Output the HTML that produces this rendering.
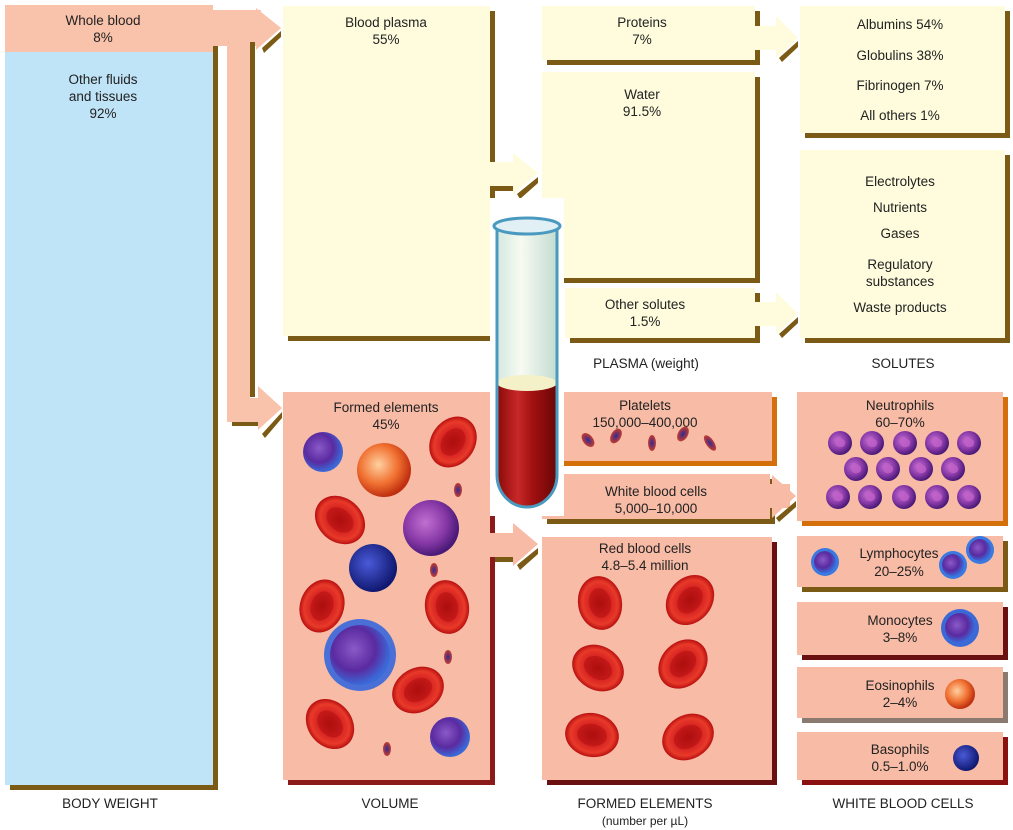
<!DOCTYPE html>
<html><head><meta charset="utf-8"><style>
html,body{margin:0;padding:0;background:#fff;}
svg{display:block;font-family:"Liberation Sans",sans-serif;}
text{font-size:13.5px;fill:#222;text-anchor:middle;}
</style></head><body>
<svg width="1013" height="830" viewBox="0 0 1013 830" xmlns="http://www.w3.org/2000/svg">
<defs>
<radialGradient id="rbc" cx="50%" cy="50%" r="50%">
<stop offset="0" stop-color="#a80c0c"/><stop offset="0.45" stop-color="#d42020"/><stop offset="0.8" stop-color="#e83a2a"/><stop offset="1" stop-color="#b81010"/></radialGradient>
<radialGradient id="neu" cx="40%" cy="40%" r="60%"><stop offset="0" stop-color="#c070d0"/><stop offset="0.6" stop-color="#8a3aa8"/><stop offset="1" stop-color="#4a1a78"/></radialGradient>
<radialGradient id="lym" cx="40%" cy="40%" r="60%"><stop offset="0" stop-color="#8a5ac8"/><stop offset="0.6" stop-color="#5a2aa0"/><stop offset="1" stop-color="#3a6ad8"/></radialGradient>
<radialGradient id="eos" cx="40%" cy="40%" r="60%"><stop offset="0" stop-color="#ffd0a0"/><stop offset="0.6" stop-color="#f07030"/><stop offset="1" stop-color="#c03010"/></radialGradient>
<radialGradient id="bas" cx="40%" cy="40%" r="60%"><stop offset="0" stop-color="#4a5ad8"/><stop offset="1" stop-color="#101870"/></radialGradient>
<radialGradient id="plt" cx="50%" cy="50%" r="50%"><stop offset="0" stop-color="#2030a0"/><stop offset="0.5" stop-color="#803060"/><stop offset="1" stop-color="#c04030"/></radialGradient>
<linearGradient id="tube" x1="0" x2="1"><stop offset="0" stop-color="#8a0a0a"/><stop offset="0.35" stop-color="#c82828"/><stop offset="0.6" stop-color="#a01010"/><stop offset="1" stop-color="#6a0606"/></linearGradient>
<linearGradient id="tubeTop" x1="0" x2="1"><stop offset="0" stop-color="#cfe6dc"/><stop offset="0.4" stop-color="#f6faf0"/><stop offset="1" stop-color="#bcd8cc"/></linearGradient>
<g id="R"><ellipse rx="22" ry="27" fill="url(#rbc)"/><ellipse rx="11" ry="15" fill="#b01010" opacity="0.55"/></g>
<g id="N"><circle r="12" fill="url(#neu)"/><path d="M-6,-3 q4,-6 8,-1 q5,2 2,7 q-5,3 -8,-1z" fill="#c060c8" opacity="0.8"/></g>
</defs>

<rect x="10" y="10" width="208" height="780" fill="#7a5a14"/>
<rect x="5" y="52" width="208" height="733" fill="#bfe3f7"/>
<rect x="5" y="5" width="208" height="47" fill="#f9c2aa"/>
<text x="103" y="25">Whole blood</text><text x="103" y="42">8%</text>
<text x="103" y="84">Other fluids</text><text x="103" y="101">and tissues</text><text x="103" y="118">92%</text>

<rect x="213" y="10" width="48" height="36" fill="#f9c2aa"/>
<polygon points="256,8 281,28 256,50" fill="#f9c2aa"/>
<polygon points="262,48 281,31 281,37 264,53" fill="#7a5a14"/>
<rect x="228" y="42" width="4" height="370" fill="#7a5a14"/>
<rect x="250" y="42" width="5" height="355" fill="#7a5a14"/>
<rect x="227" y="40" width="23" height="380" rx="6" fill="#f9c2aa"/>
<rect x="227" y="398" width="36" height="24" fill="#f9c2aa"/>
<rect x="232" y="422" width="30" height="4" fill="#7a5a14"/>
<polygon points="258,386 282,408 258,430" fill="#f9c2aa"/>
<polygon points="262,434 282,412 282,418 265,438" fill="#7a5a14"/>

<rect x="288" y="11" width="207" height="330" fill="#7a5a14"/>
<rect x="283" y="6" width="207" height="330" fill="#fefcdc"/>
<text x="386" y="27">Blood plasma</text><text x="386" y="44">55%</text>
<rect x="490" y="162" width="25" height="24" fill="#fefcdc"/>
<rect x="495" y="186" width="20" height="5" fill="#7a5a14"/>
<polygon points="513,153 538,173 513,195" fill="#fefcdc"/>
<polygon points="517,194 538,177 538,183 520,199" fill="#7a5a14"/>

<rect x="547" y="11" width="213" height="54" fill="#7a5a14"/>
<rect x="542" y="6" width="213" height="54" fill="#fefcdc"/>
<text x="642" y="27">Proteins</text><text x="642" y="44">7%</text>
<rect x="755" y="26" width="25" height="24" fill="#fefcdc"/>
<polygon points="776,16 798,38 776,58" fill="#fefcdc"/>
<polygon points="779,58 798,41 798,47 782,62" fill="#7a5a14"/>
<rect x="547" y="77" width="213" height="206" fill="#7a5a14"/>
<rect x="542" y="72" width="213" height="206" fill="#fefcdc"/>
<text x="642" y="99">Water</text><text x="642" y="116">91.5%</text>
<rect x="570" y="293" width="190" height="50" fill="#7a5a14"/>
<rect x="565" y="288" width="190" height="50" fill="#fefcdc"/>
<text x="645" y="309">Other solutes</text><text x="645" y="326">1.5%</text>
<rect x="755" y="302" width="25" height="24" fill="#fefcdc"/>
<polygon points="776,292 798,314 776,334" fill="#fefcdc"/>
<polygon points="779,334 798,317 798,323 782,338" fill="#7a5a14"/>

<rect x="805" y="11" width="205" height="127" fill="#7a5a14"/>
<rect x="800" y="6" width="205" height="127" fill="#fefcdc"/>
<text x="900" y="29">Albumins 54%</text><text x="900" y="60">Globulins 38%</text><text x="900" y="90">Fibrinogen 7%</text><text x="900" y="120">All others 1%</text>
<rect x="805" y="155" width="205" height="188" fill="#7a5a14"/>
<rect x="800" y="150" width="205" height="188" fill="#fefcdc"/>
<text x="900" y="186">Electrolytes</text><text x="900" y="212">Nutrients</text><text x="900" y="238">Gases</text><text x="900" y="269">Regulatory</text><text x="900" y="286">substances</text><text x="900" y="312">Waste products</text>

<text x="646" y="368">PLASMA (weight)</text>
<text x="903" y="368">SOLUTES</text>

<rect x="288" y="397" width="207" height="388" fill="#8b1a1a"/>
<rect x="283" y="392" width="207" height="388" fill="#f8bba6"/>
<text x="386" y="412">Formed elements</text><text x="386" y="429">45%</text>
<use href="#R" transform="translate(453,442) rotate(35)"/>
<use href="#R" transform="translate(340,520) rotate(-50)"/>
<use href="#R" transform="translate(322,606) rotate(20)"/>
<use href="#R" transform="translate(447,607) rotate(-10)"/>
<use href="#R" transform="translate(418,690) rotate(60)"/>
<use href="#R" transform="translate(330,724) rotate(-40)"/>
<circle cx="323" cy="452" r="20" fill="url(#lym)"/>
<circle cx="384" cy="470" r="27" fill="url(#eos)"/>
<circle cx="431" cy="528" r="28" fill="url(#neu)"/>
<circle cx="373" cy="568" r="24" fill="url(#bas)"/>
<circle cx="360" cy="655" r="36" fill="#4a70d8"/><circle cx="360" cy="655" r="30" fill="url(#lym)"/>
<circle cx="450" cy="737" r="20" fill="url(#lym)"/>
<ellipse cx="458" cy="490" rx="4" ry="7" fill="url(#plt)"/><ellipse cx="434" cy="570" rx="4" ry="7" fill="url(#plt)"/><ellipse cx="448" cy="657" rx="4" ry="7" fill="url(#plt)"/><ellipse cx="387" cy="749" rx="4" ry="7" fill="url(#plt)"/>
<rect x="490" y="533" width="25" height="24" fill="#f8bba6"/>
<rect x="495" y="557" width="20" height="5" fill="#7a5a14"/>
<polygon points="513,523 538,544 513,566" fill="#f8bba6"/>
<polygon points="517,565 538,548 538,554 520,570" fill="#7a5a14"/>

<rect x="547" y="397" width="230" height="69" fill="#d4700a"/>
<rect x="542" y="392" width="230" height="69" fill="#f8bba6"/>
<text x="645" y="410">Platelets</text><text x="645" y="427">150,000–400,000</text>
<ellipse cx="588" cy="440" rx="5" ry="8" transform="rotate(-40 588 440)" fill="url(#plt)"/>
<ellipse cx="616" cy="436" rx="5" ry="8" transform="rotate(30 616 436)" fill="url(#plt)"/>
<ellipse cx="652" cy="443" rx="4" ry="8" fill="url(#plt)"/>
<ellipse cx="683" cy="434" rx="5" ry="8" transform="rotate(30 683 434)" fill="url(#plt)"/>
<ellipse cx="710" cy="443" rx="4" ry="9" transform="rotate(-35 710 443)" fill="url(#plt)"/>
<rect x="547" y="479" width="228" height="45" fill="#7a5a14"/>
<rect x="542" y="474" width="228" height="45" fill="#f8bba6"/>
<text x="656" y="496">White blood cells</text><text x="656" y="513">5,000–10,000</text>
<rect x="770" y="484" width="20" height="24" fill="#f8bba6"/>
<polygon points="772,475 796,496 772,518" fill="#f8bba6"/>
<polygon points="776,518 796,501 796,507 779,522" fill="#7a5a14"/>
<rect x="547" y="542" width="230" height="243" fill="#6a1010"/>
<rect x="542" y="537" width="230" height="243" fill="#f8bba6"/>
<text x="645" y="553">Red blood cells</text><text x="645" y="570">4.8–5.4 million</text>
<use href="#R" transform="translate(600,603) rotate(-10)"/>
<use href="#R" transform="translate(690,600) rotate(40)"/>
<use href="#R" transform="translate(598,668) rotate(-60)"/>
<use href="#R" transform="translate(683,664) rotate(45)"/>
<use href="#R" transform="translate(592,735) rotate(-80)"/>
<use href="#R" transform="translate(688,737) rotate(60)"/>

<rect x="490" y="198" width="74" height="318" fill="#fff"/>
<rect x="497" y="230" width="60" height="160" fill="url(#tubeTop)" opacity="0.9"/>
<path d="M497,385 L557,385 L557,475 A30,32 0 0 1 497,475 Z" fill="url(#tube)"/>
<ellipse cx="527" cy="383" rx="30" ry="8" fill="#f4f0c8"/>
<path d="M497,230 L497,475 A30,32 0 0 0 557,475 L557,230" fill="none" stroke="#4a9ac0" stroke-width="3"/>
<ellipse cx="527" cy="226" rx="33" ry="8" fill="#e0f0f4" stroke="#4a9ac0" stroke-width="3"/>

<rect x="802" y="397" width="206" height="129" fill="#d4700a"/>
<rect x="797" y="392" width="206" height="129" fill="#f8bba6"/>
<text x="900" y="410">Neutrophils</text><text x="900" y="427">60–70%</text>
<use href="#N" x="840" y="443"/><use href="#N" x="872" y="443"/><use href="#N" x="905" y="443"/><use href="#N" x="937" y="443"/><use href="#N" x="969" y="443"/>
<use href="#N" x="856" y="469"/><use href="#N" x="888" y="469"/><use href="#N" x="921" y="469"/><use href="#N" x="953" y="469"/>
<use href="#N" x="838" y="497"/><use href="#N" x="870" y="497"/><use href="#N" x="904" y="497"/><use href="#N" x="937" y="497"/><use href="#N" x="969" y="497"/>

<rect x="802" y="541" width="206" height="51" fill="#7a5a14"/>
<rect x="797" y="536" width="206" height="51" fill="#f8bba6"/>
<text x="899" y="558">Lymphocytes</text><text x="899" y="576">20–25%</text>
<circle cx="825" cy="562" r="14" fill="#3a7ae0"/><circle cx="825" cy="562" r="11" fill="url(#lym)"/>
<circle cx="953" cy="565" r="14" fill="#3a7ae0"/><circle cx="953" cy="565" r="11" fill="url(#lym)"/>
<circle cx="980" cy="550" r="14" fill="#3a7ae0"/><circle cx="980" cy="550" r="11" fill="url(#lym)"/>

<rect x="802" y="607" width="206" height="53" fill="#6a1010"/>
<rect x="797" y="602" width="206" height="53" fill="#f8bba6"/>
<text x="900" y="625">Monocytes</text><text x="900" y="642">3–8%</text>
<circle cx="960" cy="628" r="19" fill="#3a6ad8"/><circle cx="960" cy="628" r="15" fill="url(#lym)"/>

<rect x="802" y="672" width="206" height="51" fill="#8a7a70"/>
<rect x="797" y="667" width="206" height="51" fill="#f8bba6"/>
<text x="900" y="690">Eosinophils</text><text x="900" y="707">2–4%</text>
<circle cx="960" cy="694" r="15" fill="url(#eos)"/>

<rect x="802" y="737" width="206" height="48" fill="#8b1010"/>
<rect x="797" y="732" width="206" height="48" fill="#f8bba6"/>
<text x="900" y="754">Basophils</text><text x="900" y="771">0.5–1.0%</text>
<circle cx="966" cy="758" r="13" fill="url(#bas)"/>

<text x="110" y="808">BODY WEIGHT</text>
<text x="390" y="808">VOLUME</text>
<text x="645" y="808">FORMED ELEMENTS</text>
<text x="645" y="825" style="font-size:12px">(number per µL)</text>
<text x="903" y="808">WHITE BLOOD CELLS</text>
</svg>
</body></html>
